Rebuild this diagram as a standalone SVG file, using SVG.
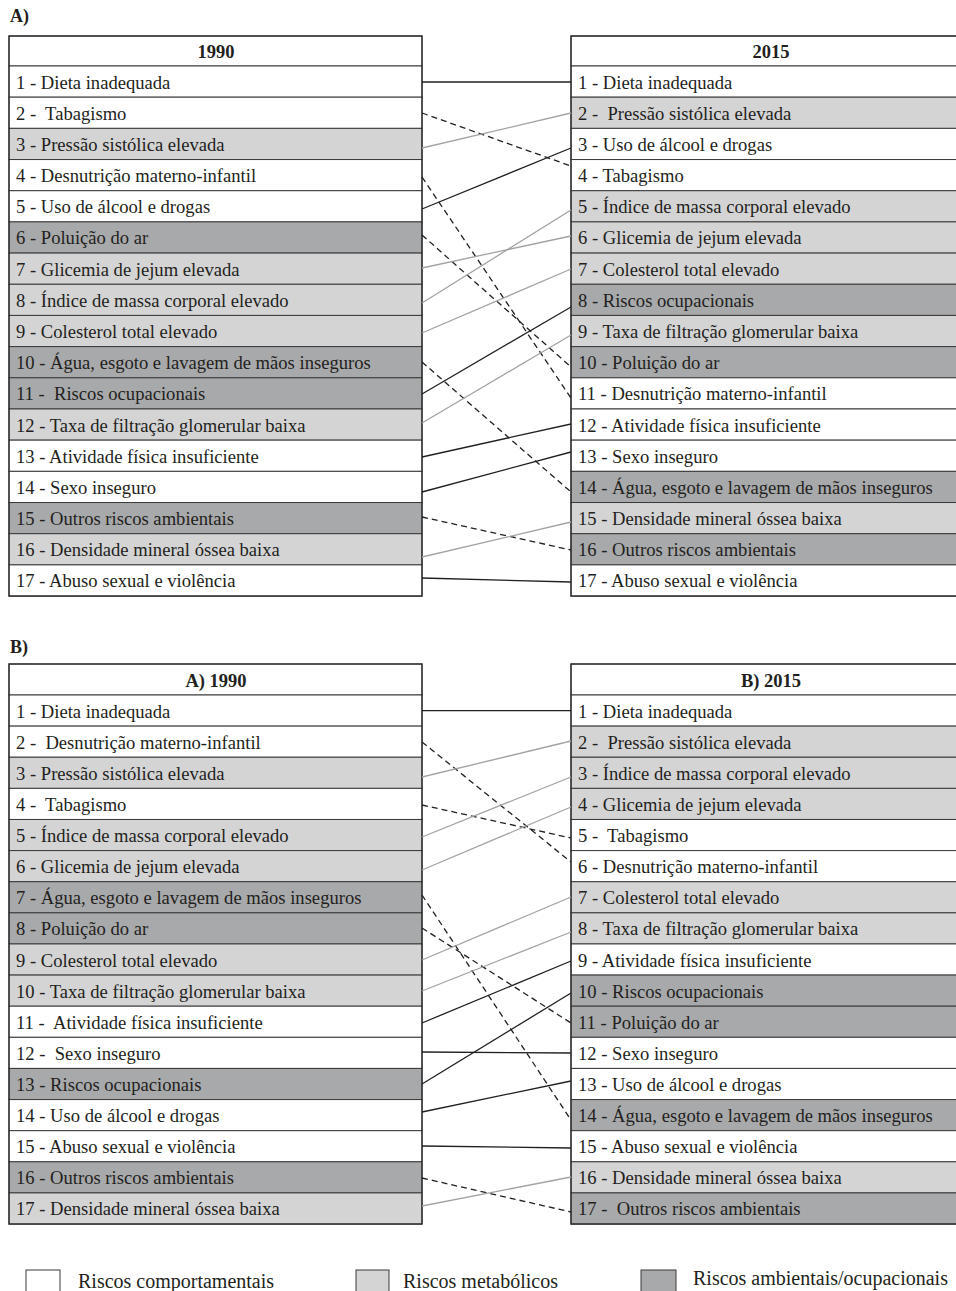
<svg xmlns="http://www.w3.org/2000/svg" width="956" height="1291" viewBox="0 0 956 1291">
<style>
.w{fill:#ffffff;stroke:#3a3a3a;stroke-width:1}
.m{fill:#d4d4d5;stroke:#3a3a3a;stroke-width:1}
.e{fill:#a8a9ab;stroke:#3a3a3a;stroke-width:1}
.h{fill:#ffffff;stroke:#3a3a3a;stroke-width:1}
.t{font-family:"Liberation Serif","DejaVu Serif",serif;font-size:18.6px;fill:#231f20;white-space:pre}
.hd{font-family:"Liberation Serif","DejaVu Serif",serif;font-size:18.5px;font-weight:bold;fill:#231f20;text-anchor:middle}
.lb{font-family:"Liberation Serif","DejaVu Serif",serif;font-size:18px;font-weight:bold;fill:#231f20}
.lg{font-family:"Liberation Serif","DejaVu Serif",serif;font-size:20px;fill:#231f20}
.border{fill:none;stroke:#2a2a2a;stroke-width:1.3}
.k{stroke:#231f20;stroke-width:1.3;fill:none}
.g{stroke:#a3a3a3;stroke-width:1.3;fill:none}
.d{stroke:#231f20;stroke-width:1.3;fill:none;stroke-dasharray:6 4}
</style>
<rect width="956" height="1291" fill="#ffffff"/>
<text class="lb" x="10" y="22">A)</text>
<text class="lb" x="10" y="653">B)</text>

<!-- Panel A left -->
<g id="A-left">
<g id="A-L-head"><rect class="h" x="9" y="36" width="413" height="30"/><text class="hd" x="216" y="58">1990</text></g>
<g id="A-L1"><rect class="w" x="9" y="66" width="413" height="31.18"/><text class="t" x="16" y="88.5">1 - Dieta inadequada</text></g>
<g id="A-L2"><rect class="w" x="9" y="97.18" width="413" height="31.18"/><text class="t" x="16" y="119.7">2 -  Tabagismo</text></g>
<g id="A-L3"><rect class="m" x="9" y="128.36" width="413" height="31.18"/><text class="t" x="16" y="150.9">3 - Pressão sistólica elevada</text></g>
<g id="A-L4"><rect class="w" x="9" y="159.54" width="413" height="31.18"/><text class="t" x="16" y="182">4 - Desnutrição materno-infantil</text></g>
<g id="A-L5"><rect class="w" x="9" y="190.72" width="413" height="31.18"/><text class="t" x="16" y="213.2">5 - Uso de álcool e drogas</text></g>
<g id="A-L6"><rect class="e" x="9" y="221.9" width="413" height="31.18"/><text class="t" x="16" y="244.4">6 - Poluição do ar</text></g>
<g id="A-L7"><rect class="m" x="9" y="253.08" width="413" height="31.18"/><text class="t" x="16" y="275.6">7 - Glicemia de jejum elevada</text></g>
<g id="A-L8"><rect class="m" x="9" y="284.26" width="413" height="31.18"/><text class="t" x="16" y="306.8">8 - Índice de massa corporal elevado</text></g>
<g id="A-L9"><rect class="m" x="9" y="315.44" width="413" height="31.18"/><text class="t" x="16" y="337.9">9 - Colesterol total elevado</text></g>
<g id="A-L10"><rect class="e" x="9" y="346.62" width="413" height="31.18"/><text class="t" x="16" y="369.1">10 - Água, esgoto e lavagem de mãos inseguros</text></g>
<g id="A-L11"><rect class="e" x="9" y="377.8" width="413" height="31.18"/><text class="t" x="16" y="400.3">11 -  Riscos ocupacionais</text></g>
<g id="A-L12"><rect class="m" x="9" y="408.98" width="413" height="31.18"/><text class="t" x="16" y="431.5">12 - Taxa de filtração glomerular baixa</text></g>
<g id="A-L13"><rect class="w" x="9" y="440.16" width="413" height="31.18"/><text class="t" x="16" y="462.7">13 - Atividade física insuficiente</text></g>
<g id="A-L14"><rect class="w" x="9" y="471.34" width="413" height="31.18"/><text class="t" x="16" y="493.8">14 - Sexo inseguro</text></g>
<g id="A-L15"><rect class="e" x="9" y="502.52" width="413" height="31.18"/><text class="t" x="16" y="525">15 - Outros riscos ambientais</text></g>
<g id="A-L16"><rect class="m" x="9" y="533.7" width="413" height="31.18"/><text class="t" x="16" y="556.2">16 - Densidade mineral óssea baixa</text></g>
<g id="A-L17"><rect class="w" x="9" y="564.88" width="413" height="31.18"/><text class="t" x="16" y="587.4">17 - Abuso sexual e violência</text></g>
<rect class="border" x="9" y="36" width="413" height="560.06"/>
</g>

<!-- Panel A right -->
<g id="A-right">
<g id="A-R-head"><rect class="h" x="571" y="36" width="400" height="30"/><text class="hd" x="771" y="58">2015</text></g>
<g id="A-R1"><rect class="w" x="571" y="66" width="400" height="31.18"/><text class="t" x="578" y="88.5">1 - Dieta inadequada</text></g>
<g id="A-R2"><rect class="m" x="571" y="97.18" width="400" height="31.18"/><text class="t" x="578" y="119.7">2 -  Pressão sistólica elevada</text></g>
<g id="A-R3"><rect class="w" x="571" y="128.36" width="400" height="31.18"/><text class="t" x="578" y="150.9">3 - Uso de álcool e drogas</text></g>
<g id="A-R4"><rect class="w" x="571" y="159.54" width="400" height="31.18"/><text class="t" x="578" y="182">4 - Tabagismo</text></g>
<g id="A-R5"><rect class="m" x="571" y="190.72" width="400" height="31.18"/><text class="t" x="578" y="213.2">5 - Índice de massa corporal elevado</text></g>
<g id="A-R6"><rect class="m" x="571" y="221.9" width="400" height="31.18"/><text class="t" x="578" y="244.4">6 - Glicemia de jejum elevada</text></g>
<g id="A-R7"><rect class="m" x="571" y="253.08" width="400" height="31.18"/><text class="t" x="578" y="275.6">7 - Colesterol total elevado</text></g>
<g id="A-R8"><rect class="e" x="571" y="284.26" width="400" height="31.18"/><text class="t" x="578" y="306.8">8 - Riscos ocupacionais</text></g>
<g id="A-R9"><rect class="m" x="571" y="315.44" width="400" height="31.18"/><text class="t" x="578" y="337.9">9 - Taxa de filtração glomerular baixa</text></g>
<g id="A-R10"><rect class="e" x="571" y="346.62" width="400" height="31.18"/><text class="t" x="578" y="369.1">10 - Poluição do ar</text></g>
<g id="A-R11"><rect class="w" x="571" y="377.8" width="400" height="31.18"/><text class="t" x="578" y="400.3">11 - Desnutrição materno-infantil</text></g>
<g id="A-R12"><rect class="w" x="571" y="408.98" width="400" height="31.18"/><text class="t" x="578" y="431.5">12 - Atividade física insuficiente</text></g>
<g id="A-R13"><rect class="w" x="571" y="440.16" width="400" height="31.18"/><text class="t" x="578" y="462.7">13 - Sexo inseguro</text></g>
<g id="A-R14"><rect class="e" x="571" y="471.34" width="400" height="31.18"/><text class="t" x="578" y="493.8">14 - Água, esgoto e lavagem de mãos inseguros</text></g>
<g id="A-R15"><rect class="m" x="571" y="502.52" width="400" height="31.18"/><text class="t" x="578" y="525">15 - Densidade mineral óssea baixa</text></g>
<g id="A-R16"><rect class="e" x="571" y="533.7" width="400" height="31.18"/><text class="t" x="578" y="556.2">16 - Outros riscos ambientais</text></g>
<g id="A-R17"><rect class="w" x="571" y="564.88" width="400" height="31.18"/><text class="t" x="578" y="587.4">17 - Abuso sexual e violência</text></g>
<rect class="border" x="571" y="36" width="400" height="560.06"/>
</g>

<!-- Panel B left -->
<g id="B-left">
<g id="B-L-head"><rect class="h" x="9" y="664" width="413" height="31"/><text class="hd" x="216" y="686.5">A) 1990</text></g>
<g id="B-L1"><rect class="w" x="9" y="695" width="413" height="31.12"/><text class="t" x="16" y="717.5">1 - Dieta inadequada</text></g>
<g id="B-L2"><rect class="w" x="9" y="726.12" width="413" height="31.12"/><text class="t" x="16" y="748.6">2 -  Desnutrição materno-infantil</text></g>
<g id="B-L3"><rect class="m" x="9" y="757.24" width="413" height="31.12"/><text class="t" x="16" y="779.7">3 - Pressão sistólica elevada</text></g>
<g id="B-L4"><rect class="w" x="9" y="788.36" width="413" height="31.12"/><text class="t" x="16" y="810.9">4 -  Tabagismo</text></g>
<g id="B-L5"><rect class="m" x="9" y="819.48" width="413" height="31.12"/><text class="t" x="16" y="842">5 - Índice de massa corporal elevado</text></g>
<g id="B-L6"><rect class="m" x="9" y="850.6" width="413" height="31.12"/><text class="t" x="16" y="873.1">6 - Glicemia de jejum elevada</text></g>
<g id="B-L7"><rect class="e" x="9" y="881.72" width="413" height="31.12"/><text class="t" x="16" y="904.2">7 - Água, esgoto e lavagem de mãos inseguros</text></g>
<g id="B-L8"><rect class="e" x="9" y="912.84" width="413" height="31.12"/><text class="t" x="16" y="935.3">8 - Poluição do ar</text></g>
<g id="B-L9"><rect class="m" x="9" y="943.96" width="413" height="31.12"/><text class="t" x="16" y="966.5">9 - Colesterol total elevado</text></g>
<g id="B-L10"><rect class="m" x="9" y="975.08" width="413" height="31.12"/><text class="t" x="16" y="997.6">10 - Taxa de filtração glomerular baixa</text></g>
<g id="B-L11"><rect class="w" x="9" y="1006.2" width="413" height="31.12"/><text class="t" x="16" y="1028.7">11 -  Atividade física insuficiente</text></g>
<g id="B-L12"><rect class="w" x="9" y="1037.32" width="413" height="31.12"/><text class="t" x="16" y="1059.8">12 -  Sexo inseguro</text></g>
<g id="B-L13"><rect class="e" x="9" y="1068.44" width="413" height="31.12"/><text class="t" x="16" y="1090.9">13 - Riscos ocupacionais</text></g>
<g id="B-L14"><rect class="w" x="9" y="1099.56" width="413" height="31.12"/><text class="t" x="16" y="1122.1">14 - Uso de álcool e drogas</text></g>
<g id="B-L15"><rect class="w" x="9" y="1130.68" width="413" height="31.12"/><text class="t" x="16" y="1153.2">15 - Abuso sexual e violência</text></g>
<g id="B-L16"><rect class="e" x="9" y="1161.8" width="413" height="31.12"/><text class="t" x="16" y="1184.3">16 - Outros riscos ambientais</text></g>
<g id="B-L17"><rect class="m" x="9" y="1192.92" width="413" height="31.12"/><text class="t" x="16" y="1215.4">17 - Densidade mineral óssea baixa</text></g>
<rect class="border" x="9" y="664" width="413" height="560.04"/>
</g>

<!-- Panel B right -->
<g id="B-right">
<g id="B-R-head"><rect class="h" x="571" y="664" width="400" height="31"/><text class="hd" x="771" y="686.5">B) 2015</text></g>
<g id="B-R1"><rect class="w" x="571" y="695" width="400" height="31.12"/><text class="t" x="578" y="717.5">1 - Dieta inadequada</text></g>
<g id="B-R2"><rect class="m" x="571" y="726.12" width="400" height="31.12"/><text class="t" x="578" y="748.6">2 -  Pressão sistólica elevada</text></g>
<g id="B-R3"><rect class="m" x="571" y="757.24" width="400" height="31.12"/><text class="t" x="578" y="779.7">3 - Índice de massa corporal elevado</text></g>
<g id="B-R4"><rect class="m" x="571" y="788.36" width="400" height="31.12"/><text class="t" x="578" y="810.9">4 - Glicemia de jejum elevada</text></g>
<g id="B-R5"><rect class="w" x="571" y="819.48" width="400" height="31.12"/><text class="t" x="578" y="842">5 -  Tabagismo</text></g>
<g id="B-R6"><rect class="w" x="571" y="850.6" width="400" height="31.12"/><text class="t" x="578" y="873.1">6 - Desnutrição materno-infantil</text></g>
<g id="B-R7"><rect class="m" x="571" y="881.72" width="400" height="31.12"/><text class="t" x="578" y="904.2">7 - Colesterol total elevado</text></g>
<g id="B-R8"><rect class="m" x="571" y="912.84" width="400" height="31.12"/><text class="t" x="578" y="935.3">8 - Taxa de filtração glomerular baixa</text></g>
<g id="B-R9"><rect class="w" x="571" y="943.96" width="400" height="31.12"/><text class="t" x="578" y="966.5">9 - Atividade física insuficiente</text></g>
<g id="B-R10"><rect class="e" x="571" y="975.08" width="400" height="31.12"/><text class="t" x="578" y="997.6">10 - Riscos ocupacionais</text></g>
<g id="B-R11"><rect class="e" x="571" y="1006.2" width="400" height="31.12"/><text class="t" x="578" y="1028.7">11 - Poluição do ar</text></g>
<g id="B-R12"><rect class="w" x="571" y="1037.32" width="400" height="31.12"/><text class="t" x="578" y="1059.8">12 - Sexo inseguro</text></g>
<g id="B-R13"><rect class="w" x="571" y="1068.44" width="400" height="31.12"/><text class="t" x="578" y="1090.9">13 - Uso de álcool e drogas</text></g>
<g id="B-R14"><rect class="e" x="571" y="1099.56" width="400" height="31.12"/><text class="t" x="578" y="1122.1">14 - Água, esgoto e lavagem de mãos inseguros</text></g>
<g id="B-R15"><rect class="w" x="571" y="1130.68" width="400" height="31.12"/><text class="t" x="578" y="1153.2">15 - Abuso sexual e violência</text></g>
<g id="B-R16"><rect class="m" x="571" y="1161.8" width="400" height="31.12"/><text class="t" x="578" y="1184.3">16 - Densidade mineral óssea baixa</text></g>
<g id="B-R17"><rect class="e" x="571" y="1192.92" width="400" height="31.12"/><text class="t" x="578" y="1215.4">17 -  Outros riscos ambientais</text></g>
<rect class="border" x="571" y="664" width="400" height="560.04"/>
</g>

<!-- Connectors -->
<g id="connectors">
<line class="k" x1="422" y1="82" x2="571" y2="82"/>
<line class="d" x1="422" y1="113" x2="571" y2="166"/>
<line class="g" x1="422" y1="148" x2="571" y2="113"/>
<line class="d" x1="422" y1="177" x2="571" y2="398"/>
<line class="k" x1="422" y1="209" x2="571" y2="148"/>
<line class="d" x1="422" y1="235" x2="571" y2="367"/>
<line class="g" x1="422" y1="268" x2="571" y2="236"/>
<line class="g" x1="422" y1="303" x2="571" y2="210"/>
<line class="g" x1="422" y1="333" x2="571" y2="269"/>
<line class="d" x1="422" y1="362" x2="571" y2="492"/>
<line class="k" x1="422" y1="394" x2="571" y2="307"/>
<line class="g" x1="422" y1="423" x2="571" y2="335"/>
<line class="k" x1="422" y1="457" x2="571" y2="424"/>
<line class="k" x1="422" y1="492" x2="571" y2="452"/>
<line class="d" x1="422" y1="517" x2="571" y2="550"/>
<line class="g" x1="422" y1="557" x2="571" y2="522"/>
<line class="k" x1="422" y1="578" x2="571" y2="582"/>

<line class="k" x1="422" y1="710.7" x2="571" y2="710.7"/>
<line class="d" x1="422" y1="742" x2="571" y2="862"/>
<line class="g" x1="422" y1="777" x2="571" y2="741"/>
<line class="d" x1="422" y1="805" x2="571" y2="838"/>
<line class="g" x1="422" y1="837" x2="571" y2="777"/>
<line class="g" x1="422" y1="870" x2="571" y2="807"/>
<line class="d" x1="422" y1="895" x2="571" y2="1120"/>
<line class="d" x1="422" y1="928" x2="571" y2="1023"/>
<line class="g" x1="422" y1="960" x2="571" y2="897"/>
<line class="g" x1="422" y1="991" x2="571" y2="932"/>
<line class="k" x1="422" y1="1023" x2="571" y2="961"/>
<line class="k" x1="422" y1="1052" x2="571" y2="1053"/>
<line class="k" x1="422" y1="1084" x2="571" y2="993"/>
<line class="k" x1="422" y1="1112" x2="571" y2="1081"/>
<line class="k" x1="422" y1="1146" x2="571" y2="1148"/>
<line class="d" x1="422" y1="1178" x2="571" y2="1212"/>
<line class="g" x1="422" y1="1206" x2="571" y2="1177"/>
</g>

<!-- Legend -->
<g id="legend">
<rect class="w" x="26" y="1270" width="34" height="30"/>
<text class="lg" x="78" y="1288">Riscos comportamentais</text>
<rect class="m" x="356" y="1270" width="33" height="30"/>
<text class="lg" x="403" y="1288">Riscos metabólicos</text>
<rect class="e" x="641" y="1270" width="35" height="30"/>
<text class="lg" x="693" y="1285">Riscos ambientais/ocupacionais</text>
</g>
</svg>
